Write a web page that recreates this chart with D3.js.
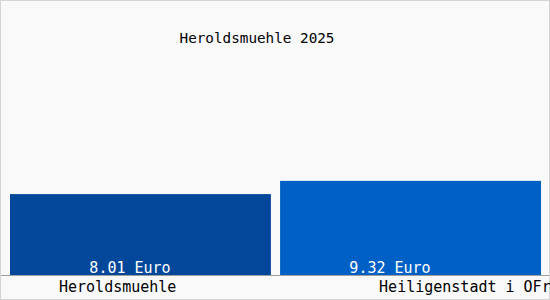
<!DOCTYPE html>
<html>
<head>
<meta charset="utf-8">
<script src="https://cdn.jsdelivr.net/npm/d3@7"></script>
<style>
  body { margin: 0; background: #fff; }
  svg text { font-family: 'DejaVu Sans Mono', monospace; }
</style>
</head>
<body>
<div id="chart"></div>
<script>
let title = 'Heroldsmuehle 2025'
let places = ['Heroldsmuehle', 'Heiligenstadt i OFr']
let prices = [8.01, 9.32]
let colors = ['#03479a', '#0060c6']

let width = 550
let height = 300
let baseline = 275

let svg = d3
  .select('#chart')
  .append('svg')
  .attr('width', width)
  .attr('height', height)

// background + frame
svg
  .append('rect')
  .attr('x', 0.5)
  .attr('y', 0.5)
  .attr('width', width - 1)
  .attr('height', height - 1)
  .attr('fill', '#f9f9f9')
  .attr('stroke', '#d4d4d4')

let xScale = d3
  .scaleBand()
  .domain(places)
  .range([10, 541])
  .paddingInner(0.034)

// label slots, 260px apiece
let labelScale = d3.scaleBand().domain(places).range([0, 520])

let yScale = d3.scaleLinear().domain([0, 10]).range([baseline, baseline - 101])

svg
  .selectAll('.bar')
  .data(places)
  .enter()
  .append('rect')
  .attr('class', 'bar')
  .attr('x', d => xScale(d))
  .attr('width', xScale.bandwidth())
  .attr('y', (d, i) => yScale(prices[i]))
  .attr('height', (d, i) => yScale(0) - yScale(prices[i]))
  .attr('fill', (d, i) => colors[i])

// baseline
svg
  .append('line')
  .attr('x1', 1)
  .attr('x2', width - 1)
  .attr('y1', baseline + 0.5)
  .attr('y2', baseline + 0.5)
  .attr('stroke', '#a0a0a0')

// value labels
svg
  .selectAll('.value-label')
  .data(places)
  .enter()
  .append('text')
  .attr('class', 'value-label')
  .text((d, i) => prices[i].toFixed(2) + ' Euro')
  .attr('x', d => labelScale(d) + labelScale.bandwidth() / 2)
  .attr('y', baseline - 2)
  .attr('text-anchor', 'middle')
  .attr('font-size', 15)
  .attr('fill', 'white')

// place labels
svg
  .selectAll('.place-label')
  .data(places)
  .enter()
  .append('text')
  .attr('class', 'place-label')
  .text(d => d)
  .attr('x', (d, i) => (i === 0 ? xScale(d) + 49 : xScale(d) + 99))
  .attr('y', 292)
  .attr('font-size', 15)
  .attr('fill', 'black')

svg
  .append('text')
  .text(title)
  .attr('x', 257)
  .attr('y', 43)
  .attr('text-anchor', 'middle')
  .attr('font-size', 14.3)
  .attr('fill', 'black')
</script>
</body>
</html>
